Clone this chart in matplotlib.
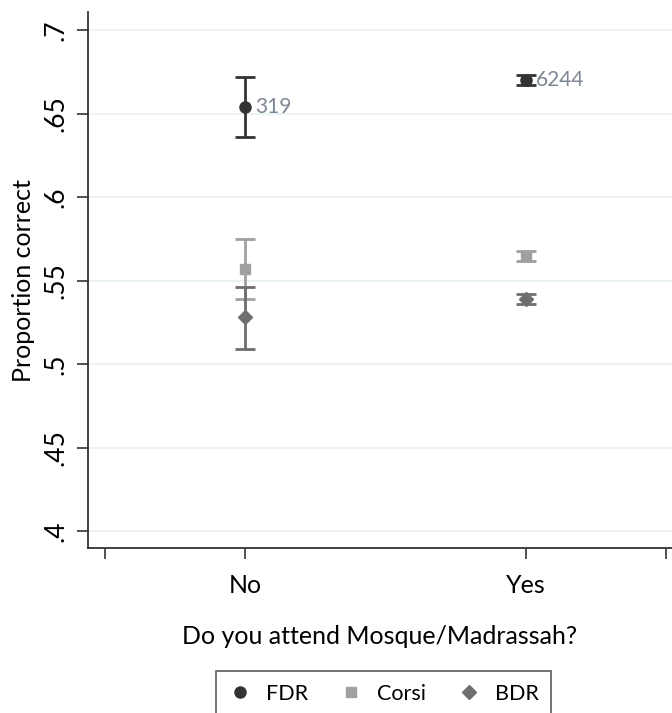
import matplotlib.pyplot as plt
import numpy as np

groups = ["No", "Yes"]
series = ["FDR", "Corsi", "BDR"]
means = {"FDR": [0.654, 0.670], "Corsi": [0.557, 0.565], "BDR": [0.528, 0.539]}
lower = {"FDR": [0.636, 0.667], "Corsi": [0.539, 0.562], "BDR": [0.509, 0.536]}
upper = {"FDR": [0.672, 0.673], "Corsi": [0.575, 0.568], "BDR": [0.546, 0.542]}
counts = ["319", "6244"]
yticks = [0.4, 0.45, 0.5, 0.55, 0.6, 0.65, 0.7]
ytick_labels = [".4", ".45", ".5", ".55", ".6", ".65", ".7"]

colors = {"FDR": "#333333", "Corsi": "#a0a0a0", "BDR": "#6e6e6e"}
markers = {"FDR": "o", "Corsi": "s", "BDR": "D"}
msizes = {"FDR": 8, "Corsi": 7.5, "BDR": 7.5}

plt.rcParams['font.family'] = ['Lato', 'DejaVu Sans']

fig = plt.figure(figsize=(6.72, 7.13), dpi=100)
ax = fig.add_axes([0.131, 0.2314, 0.869, 0.7516])

x = np.array([1, 2])
for s in series:
    m = np.array(means[s])
    err = [m - np.array(lower[s]), np.array(upper[s]) - m]
    ax.errorbar(x, m, yerr=err, fmt=markers[s], color=colors[s], ms=msizes[s],
                capsize=7, elinewidth=2, capthick=2, label=s, zorder=3)

for xi, yi, c in zip(x, means["FDR"], counts):
    ax.text(xi + 0.035, yi, c, color="#7f8794", fontsize=15, va="center", ha="left")

ax.set_xlim(0.44, 2.52)
ax.set_ylim(0.3898, 0.7108)
ax.set_xticks([0.5, 1, 2, 2.5])
ax.set_xticklabels(["", "No", "Yes", ""], fontsize=18)
ax.set_yticks(yticks)
ax.set_yticklabels(ytick_labels, rotation=90, va="center", fontsize=19)
ax.tick_params(axis="both", length=8, width=1.2, color="#333333")
ax.tick_params(axis="x", pad=11)
ax.tick_params(axis="y", pad=6)
ax.grid(axis="y", color="#eaf2f3", lw=1.5)
ax.set_axisbelow(True)
for sp in ["top", "right"]:
    ax.spines[sp].set_visible(False)
for sp in ["left", "bottom"]:
    ax.spines[sp].set_linewidth(1.3)
    ax.spines[sp].set_color("#333333")

ax.set_ylabel("Proportion correct", fontsize=18, labelpad=6)
ax.set_xlabel("Do you attend Mosque/Madrassah?", fontsize=18, labelpad=20)

handles = [plt.Line2D([], [], marker=markers[s], color=colors[s], ls="none", ms=msizes[s])
           for s in series]
leg = fig.legend(handles, series, loc="lower center", bbox_to_anchor=(0.571, -0.02), ncol=3,
                 fontsize=15.5, frameon=True, fancybox=False, edgecolor="#333333",
                 handlelength=1.0, columnspacing=1.5, handletextpad=0.7, borderpad=0.6)
leg.get_frame().set_linewidth(1.2)

fig.savefig("out.png", dpi=100)
